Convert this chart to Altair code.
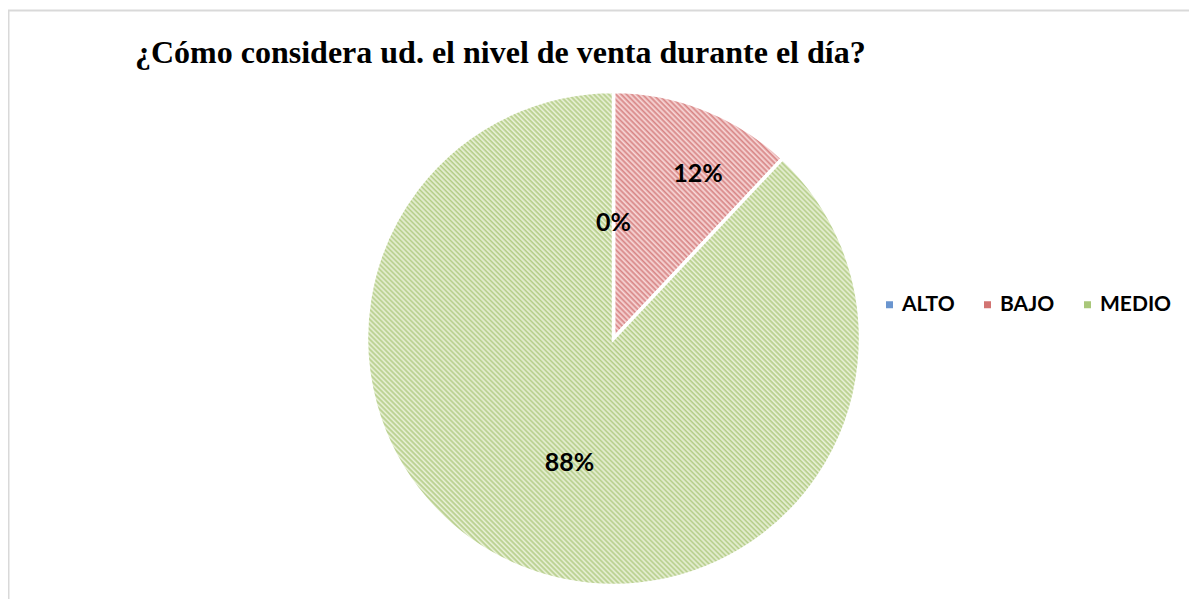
import altair as alt
import pandas as pd

# ---- data ----
categories = ["ALTO", "BAJO", "MEDIO"]
values = [0, 12, 88]
labels = ["0%", "12%", "88%"]
title_text = "¿Cómo considera ud. el nivel de venta durante el día?"

legend_colors = ["#6A95CF", "#D27472", "#A9C77A"]

df = pd.DataFrame({"cat": categories, "v": values, "lab": labels, "i": [0, 1, 2]})
tdf = pd.DataFrame({"t": [title_text]})


def stripes(dark, light, n, x2=1.0):
    stops = []
    for k in range(n):
        a = k / n
        b = (k + 0.45) / n
        stops += [
            {"offset": a, "color": dark},
            {"offset": b, "color": light},
        ]
    stops.append({"offset": 1, "color": dark})
    return {"gradient": "linear", "x1": 0, "y1": 1, "x2": x2, "y2": 0, "stops": stops}


grad_bajo = stripes("#D78484", "#F8DADA", 68, 0.69)
grad_medio = stripes("#B3CC86", "#EBF2DA", 198)

R = 247
theta_scale = alt.Scale(domain=[0, 100])

arcs = alt.Chart(df).mark_arc(radius=R, stroke="white", strokeWidth=3.5).encode(
    theta=alt.Theta("v:Q", stack=True, scale=theta_scale),
    order=alt.Order("i:Q"),
    fill=alt.condition("datum.cat == 'BAJO'", alt.value(grad_bajo), alt.value(grad_medio)),
    x=alt.value(605.5),
    y=alt.value(330.5),
)

text = (
    alt.Chart(df)
    .transform_window(cum="sum(v)", sort=[alt.SortField("i")])
    .transform_calculate(
        ang="datum.cum - datum.v / 2 + (datum.cat == 'BAJO' ? 1.55 : (datum.cat == 'MEDIO' ? -0.6 : 0))",
        r="datum.cat == 'ALTO' ? 116 : (datum.cat == 'BAJO' ? 185 : 132)",
    )
    .mark_text(font="Lato", fontSize=25, fontWeight="bold", color="black",
               align="center", baseline="middle")
    .encode(
        theta=alt.Theta("ang:Q", stack=None, scale=theta_scale),
        radius=alt.Radius("r:Q", scale=None),
        text="lab:N",
        x=alt.value(605.5),
        y=alt.value(330.5),
    )
)

legend_layer = alt.Chart(df).mark_square(opacity=0).encode(
    color=alt.Color(
        "cat:N",
        scale=alt.Scale(domain=categories, range=legend_colors),
        legend=alt.Legend(
            orient="none", legendX=871, legendY=286, direction="horizontal",
            title=None, symbolType="square", symbolSize=49, symbolOpacity=1,
            symbolStrokeWidth=0, labelFont="Lato", labelFontSize=21,
            labelFontWeight="bold", labelColor="black", labelOffset=2,
            columnPadding=22, padding=0,
        ),
    ),
    x=alt.value(-50),
    y=alt.value(-50),
)

title = alt.Chart(tdf).mark_text(
    font="Liberation Serif", fontSize=32, fontWeight="bold", color="black",
    align="left", baseline="alphabetic",
).encode(text="t:N", x=alt.value(127), y=alt.value(55))

frame_top = alt.Chart(tdf).mark_rule(color="#D9D9D9", strokeWidth=2).encode(
    x=alt.value(0), x2=alt.value(1189), y=alt.value(2.5)
)
frame_left = alt.Chart(tdf).mark_rule(color="#D9D9D9", strokeWidth=2).encode(
    x=alt.value(0.5), y=alt.value(2), y2=alt.value(600)
)

chart = (
    alt.layer(frame_top, frame_left, arcs, text, legend_layer, title)
    .properties(width=1181, height=591, autosize="none", padding=0, background="white")
    .configure_view(stroke=None)
)

chart.save("out.html", embed_options={"renderer": "svg", "actions": False})
